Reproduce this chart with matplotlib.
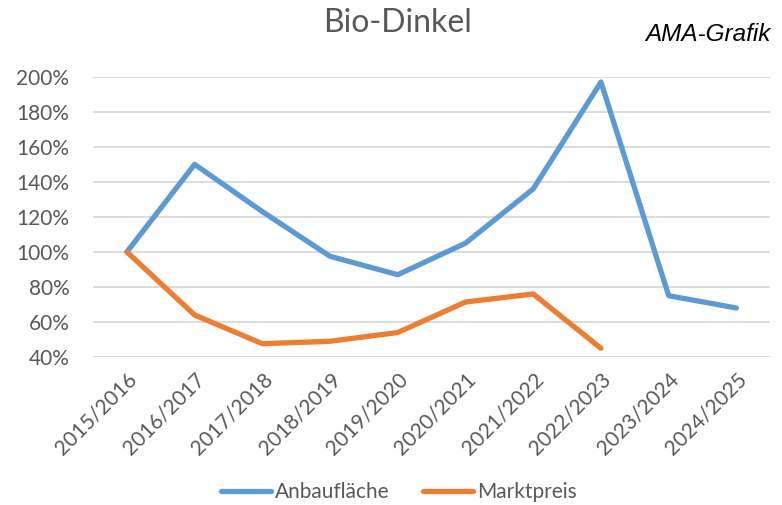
import matplotlib.pyplot as plt
import numpy as np

plt.rcParams['font.family'] = ['Lato', 'DejaVu Sans']

seasons = ["2015/2016", "2016/2017", "2017/2018", "2018/2019", "2019/2020",
           "2020/2021", "2021/2022", "2022/2023", "2023/2024", "2024/2025"]
anbauflaeche = [100, 150, 123, 97.5, 87, 105, 136, 197, 75, 68]
marktpreis = [100, 64, 47.6, 49, 54, 71.4, 76, 45]

gray = "#595959"

fig = plt.figure(figsize=(7.82, 5.05), dpi=100)
ax = fig.add_axes([0.119, 0.293, 0.866, 0.555])

x = np.arange(len(seasons))
ax.plot(x, anbauflaeche, color="#5B9BD5", lw=3.8, label="Anbaufläche",
        solid_capstyle="round", solid_joinstyle="round")
ax.plot(x[:len(marktpreis)], marktpreis, color="#ED7D31", lw=3.8, label="Marktpreis",
        solid_capstyle="round", solid_joinstyle="round")

ax.set_xlim(-0.5, len(seasons) - 0.5)
ax.set_ylim(40, 200)
ax.set_yticks(range(40, 201, 20))
ax.set_yticklabels([f"{v}%" for v in range(40, 201, 20)])
ax.set_xticks(x)
ax.set_xticklabels(seasons, rotation=45, ha="right", rotation_mode="anchor")
ax.tick_params(length=0, labelcolor=gray, labelsize=15)
ax.tick_params(axis="x", pad=9)
ax.tick_params(axis="y", pad=17)

ax.grid(axis="y", color="#D9D9D9", lw=1.3)
ax.set_axisbelow(True)
for s in ax.spines.values():
    s.set_visible(False)

fig.text(0.509, 0.955, "Bio-Dinkel", ha="center", va="center", fontsize=23, color=gray)
fig.text(0.985, 0.932, "AMA-Grafik", ha="right", va="center", fontsize=17.5,
         style="italic", family="Liberation Sans", color="black")

leg = fig.legend(loc="center", bbox_to_anchor=(0.51, 0.026), ncol=2, frameon=False,
                 fontsize=15, handlelength=2.4, columnspacing=1.6, handletextpad=0.2)
for t in leg.get_texts():
    t.set_color(gray)

fig.savefig("out.png", dpi=100)
